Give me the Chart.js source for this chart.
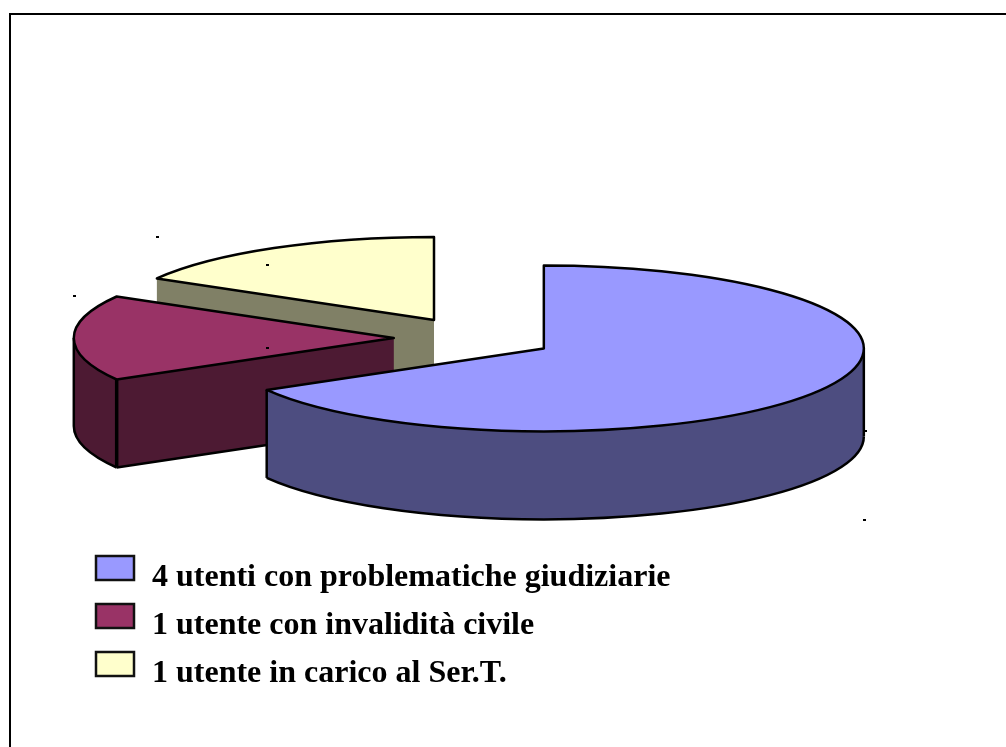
<!DOCTYPE html>
<html><head><meta charset="utf-8">
<style>html,body{margin:0;padding:0;background:#fff}canvas{display:block}</style>
<script src="https://cdn.jsdelivr.net/npm/chart.js@4"></script>
</head><body><canvas id="c" width="1006" height="747"></canvas>
<script>
const categories = ["4 utenti con problematiche giudiziarie", "1 utente con invalidità civile", "1 utente in carico al Ser.T."];
const values = [4, 1, 1];
const topColors = ["#9999FF", "#993366", "#FFFFCC"];
const sideColors = ["#4D4D80", "#4D1A33", "#808066"];

const CX = 474.2, CY = 338, K = 0.2594, DEPTH = 88, EXPLODE = 80.4, RADIUS = 320, PEN = 2.5;
const EPS = 1e-6;

function geom(a) {
  const p = a.getProps(['x','y','startAngle','endAngle','outerRadius'], true);
  const mid = (p.startAngle + p.endAngle) / 2;
  const ox = CX + Math.cos(mid) * EXPLODE, oy = CY + Math.sin(mid) * EXPLODE * K;
  const R = p.outerRadius;
  return {s: p.startAngle, e: p.endAngle, ax: p.x, ay: p.y, ox, oy, R,
    pt: (ang, d) => [ox + Math.cos(ang) * R, oy + Math.sin(ang) * R * K + (d || 0)]};
}
function line(ctx, a, b, w) {
  ctx.lineWidth = w; ctx.beginPath(); ctx.moveTo(a[0], a[1]); ctx.lineTo(b[0], b[1]); ctx.stroke();
}
function radialWall(ctx, g, ang, color) {
  const o = g.pt(ang), c = [g.ox, g.oy];
  ctx.fillStyle = color; ctx.beginPath();
  ctx.moveTo(o[0], o[1]); ctx.lineTo(c[0], c[1]); ctx.lineTo(c[0], c[1] + DEPTH); ctx.lineTo(o[0], o[1] + DEPTH);
  ctx.closePath(); ctx.fill();
  line(ctx, [o[0], o[1] + DEPTH], [c[0], c[1] + DEPTH], PEN);
}
function outerWall(ctx, g, from, to, color) {
  ctx.fillStyle = color; ctx.beginPath();
  ctx.ellipse(g.ox, g.oy, g.R, g.R * K, 0, from, to, false);
  ctx.ellipse(g.ox, g.oy + DEPTH, g.R, g.R * K, 0, to, from, true);
  ctx.closePath(); ctx.fill();
  ctx.lineWidth = PEN; ctx.beginPath();
  ctx.ellipse(g.ox, g.oy + DEPTH, g.R, g.R * K, 0, from, to, false); ctx.stroke();
}
function drawSlice(ctx, arc, i) {
  const g = geom(arc), color = sideColors[i];
  ctx.strokeStyle = '#000';
  const norm = x => ((x % (2*Math.PI)) + 2*Math.PI) % (2*Math.PI);
  const startVisible = Math.sin(g.s - Math.PI/2) > 1e-3;
  const endVisible = Math.sin(g.e + Math.PI/2) > 1e-3;
  if (startVisible) radialWall(ctx, g, g.s, color);
  if (endVisible) radialWall(ctx, g, g.e, color);
  // front-facing part of the rim: angles between 0 and PI
  let from = null, to = null;
  const s = norm(g.s), span = g.e - g.s;
  for (const off of [0, 2*Math.PI]) {
    const lo = Math.max(s, off), hi = Math.min(s + span, off + Math.PI);
    if (hi > lo + EPS) { from = lo; to = hi; }
  }
  if (from !== null) {
    outerWall(ctx, g, from, to, color);
    const v = (ang) => {
      const p = g.pt(ang);
      const inner = (startVisible && Math.abs(norm(ang) - norm(g.s)) < 1e-3) || (endVisible && Math.abs(norm(ang) - norm(g.e)) < 1e-3);
      line(ctx, p, [p[0], p[1] + DEPTH], inner ? 3.5 : PEN);
    };
    v(from); v(to);
  }
  // top face through the library's own arc element
  ctx.save();
  ctx.translate(g.ox, g.oy); ctx.scale(1, K); ctx.translate(-g.ax, -g.ay);
  arc.draw(ctx);
  ctx.restore();
  // outline with an undistorted pen
  ctx.beginPath();
  ctx.moveTo(g.ox, g.oy);
  ctx.ellipse(g.ox, g.oy, g.R, g.R * K, 0, g.s, g.e, false);
  ctx.closePath();
  ctx.lineWidth = PEN; ctx.lineJoin = 'round'; ctx.stroke();
}
const pie3d = {
  id: 'pie3d',
  beforeDatasetDraw(chart, args) {
    const ctx = chart.ctx, arcs = args.meta.data;
    ctx.save();
    for (let i = arcs.length - 1; i >= 0; i--) drawSlice(ctx, arcs[i], i);
    // small bounding-box specks of the original
    const b = geom(arcs[0]), r = geom(arcs[1]), y = geom(arcs[2]);
    const bl = b.pt(b.e)[0], br = b.ox + b.R, bt = b.oy - b.R * K, bb = b.oy + b.R * K;
    const specks = [[y.pt(y.s)[0], y.oy - y.R * K], [bl, bt], [r.ox - r.R, r.pt(r.e)[1]], [bl, b.oy],
      [br + 1, bb], [br, bb + DEPTH + 1]];
    ctx.fillStyle = '#000';
    specks.forEach(s => ctx.fillRect(Math.round(s[0]) - 1, Math.round(s[1]) - 1, 3, 2));
    ctx.restore();
    return false;
  }
};
const frame = {
  id: 'frame',
  beforeDraw(chart) {
    const ctx = chart.ctx;
    ctx.save();
    ctx.fillStyle = '#fff'; ctx.fillRect(0, 0, chart.width, chart.height);
    ctx.fillStyle = '#000';
    ctx.fillRect(9, 13, chart.width - 9, 2);
    ctx.fillRect(9, 13, 2, chart.height - 13);
    ctx.restore();
  }
};
const sideLegend = {
  id: 'sideLegend',
  afterDraw(chart) {
    const ctx = chart.ctx;
    ctx.save();
    ctx.font = 'bold 32px "Liberation Serif"';
    ctx.textBaseline = 'alphabetic';
    chart.data.labels.forEach((t, i) => {
      const y = 556 + i * 48;
      ctx.fillStyle = topColors[i]; ctx.fillRect(96, y, 38, 24);
      ctx.strokeStyle = '#111'; ctx.lineWidth = 2.5; ctx.strokeRect(96, y, 38, 24);
      ctx.fillStyle = '#000'; ctx.fillText(t, 152, 586 + i * 48);
    });
    ctx.restore();
  }
};
new Chart(document.getElementById('c'), {
  type: 'pie',
  data: { labels: categories, datasets: [{ data: values, backgroundColor: topColors, borderWidth: 0, offset: 0 }] },
  options: {
    responsive: false, animation: false, radius: RADIUS,
    plugins: { legend: { display: false }, tooltip: { enabled: false }, title: { display: false } }
  },
  plugins: [frame, pie3d, sideLegend]
});
</script></body></html>
